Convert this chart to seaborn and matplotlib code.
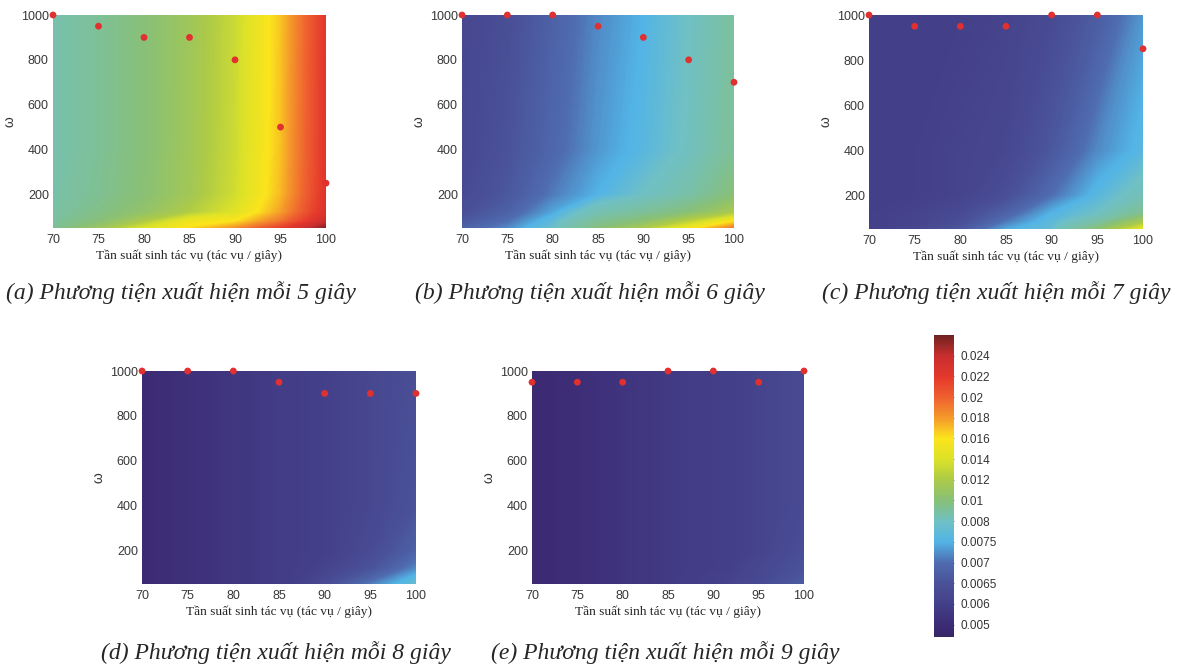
import numpy as np
import matplotlib
matplotlib.use('Agg')
import matplotlib.pyplot as plt
import seaborn as sns
from matplotlib.colors import FuncNorm, LinearSegmentedColormap
from matplotlib.cm import ScalarMappable

# task generation rate (x) and omega (y) grid of the surfaces
rates = [70, 75, 80, 85, 90, 95, 100]
omega_grid = [50, 80, 120, 200, 400, 1000]

# cost surfaces, one row per omega_grid value
cost_5s = [
    [0.0092, 0.0110, 0.0140, 0.0162, 0.0182, 0.0215, 0.0255],
    [0.0090, 0.0100, 0.0120, 0.0152, 0.0160, 0.0192, 0.0238],
    [0.0088, 0.0096, 0.0106, 0.0122, 0.0142, 0.0178, 0.0228],
    [0.0087, 0.0093, 0.0101, 0.0114, 0.0135, 0.0171, 0.0224],
    [0.0086, 0.0092, 0.0100, 0.0113, 0.0133, 0.0169, 0.0223],
    [0.0086, 0.0092, 0.0100, 0.0112, 0.0132, 0.0168, 0.0222],
]
cost_6s = [
    [0.0068, 0.0072, 0.0079, 0.0098, 0.0118, 0.0152, 0.0190],
    [0.0066, 0.0070, 0.0077, 0.0092, 0.0102, 0.0125, 0.0160],
    [0.0064, 0.0068, 0.0074, 0.0084, 0.0091, 0.0100, 0.0118],
    [0.0063, 0.0066, 0.0071, 0.0075, 0.0080, 0.0087, 0.0100],
    [0.0062, 0.0065, 0.0069, 0.0073, 0.0076, 0.0081, 0.0092],
    [0.0062, 0.0064, 0.0068, 0.0072, 0.0075, 0.0080, 0.0090],
]
cost_7s = [
    [0.0060, 0.0062, 0.0066, 0.0074, 0.0078, 0.0100, 0.0145],
    [0.0060, 0.0061, 0.0064, 0.0071, 0.0077, 0.0088, 0.0118],
    [0.0060, 0.0061, 0.0063, 0.0068, 0.0075, 0.0080, 0.0094],
    [0.0060, 0.0060, 0.0061, 0.0064, 0.0070, 0.0076, 0.0083],
    [0.0060, 0.0060, 0.0061, 0.0062, 0.0066, 0.0072, 0.0076],
    [0.0060, 0.0060, 0.0060, 0.0061, 0.0063, 0.0067, 0.0073],
]
cost_8s = [
    [0.0049, 0.0052, 0.0055, 0.0058, 0.0063, 0.0071, 0.0078],
    [0.0049, 0.0052, 0.0055, 0.0058, 0.0062, 0.0068, 0.0076],
    [0.0049, 0.0052, 0.0055, 0.0058, 0.0061, 0.0065, 0.0072],
    [0.0049, 0.0052, 0.0055, 0.0058, 0.0060, 0.0063, 0.0068],
    [0.0049, 0.0052, 0.0055, 0.0058, 0.0060, 0.0062, 0.0065],
    [0.0049, 0.0052, 0.0055, 0.0058, 0.0060, 0.0062, 0.0064],
]
cost_9s = [
    [0.0048, 0.0051, 0.0054, 0.0057, 0.0060, 0.0063, 0.0067],
    [0.0048, 0.0051, 0.0054, 0.0057, 0.0060, 0.0062, 0.0066],
    [0.0048, 0.0051, 0.0054, 0.0057, 0.0059, 0.0062, 0.0065],
    [0.0048, 0.0051, 0.0054, 0.0057, 0.0059, 0.0061, 0.0064],
    [0.0048, 0.0051, 0.0054, 0.0057, 0.0059, 0.0061, 0.0063],
    [0.0048, 0.0051, 0.0054, 0.0057, 0.0059, 0.0061, 0.0063],
]

# best omega per rate (red dots)
best_5s = [1000, 950, 900, 900, 800, 500, 250]
best_6s = [1000, 1000, 1000, 950, 900, 800, 700]
best_7s = [1000, 950, 950, 950, 1000, 1000, 850]
best_8s = [1000, 1000, 1000, 950, 900, 900, 900]
best_9s = [950, 950, 950, 1000, 1000, 950, 1000]

captions = [
    '(a) Phương tiện xuất hiện mỗi 5 giây',
    '(b) Phương tiện xuất hiện mỗi 6 giây',
    '(c) Phương tiện xuất hiện mỗi 7 giây',
    '(d) Phương tiện xuất hiện mỗi 8 giây',
    '(e) Phương tiện xuất hiện mỗi 9 giây',
]
xlabel = 'Tần suất sinh tác vụ (tác vụ / giây)'
ylabel = 'ω'

# colour bar: ticks are evenly spaced although the values are not
cbar_bounds = [0.0044, 0.005, 0.006, 0.0065, 0.007, 0.0075, 0.008, 0.01,
               0.012, 0.014, 0.016, 0.018, 0.02, 0.022, 0.024, 0.026]
cbar_ticks = cbar_bounds[1:-1]
cbar_labels = ['0.005', '0.006', '0.0065', '0.007', '0.0075', '0.008', '0.01',
               '0.012', '0.014', '0.016', '0.018', '0.02', '0.022', '0.024']
cbar_colors = ['#37256a', '#3d2c76', '#44408a', '#4a5298', '#4f6cb0', '#52b4e6',
               '#70c0c4', '#88c078', '#acca48', '#dce228', '#fbe41c', '#f59a2a',
               '#ee6030', '#e4382c', '#c82e2e', '#702222']

sns.set_style('white')
plt.rcParams['font.family'] = ['Liberation Sans', 'DejaVu Sans']

steps = np.array([0.0] + list(0.6 + np.arange(14)) + [14.6]) / 14.6
fwd = lambda v: np.interp(v, cbar_bounds, steps)
inv = lambda p: np.interp(p, steps, cbar_bounds)
norm = FuncNorm((fwd, inv), vmin=cbar_bounds[0], vmax=cbar_bounds[-1])
cmap = LinearSegmentedColormap.from_list('cost', list(zip(steps, cbar_colors)), N=512)
levels = inv(np.linspace(0, 1, 400))

fig = plt.figure(figsize=(11.8, 6.66), dpi=100)
W, H = 1180, 666
# axes boxes in pixels: left, top, right, bottom
boxes = [(53, 15, 326, 228), (462, 15, 734, 228), (869, 15, 1143, 229),
         (142, 371, 416, 584), (532, 371, 804, 584)]
cap_pos = [(181, 293), (590, 293), (996, 293), (276, 653), (665, 653)]
surfaces = [cost_5s, cost_6s, cost_7s, cost_8s, cost_9s]
bests = [best_5s, best_6s, best_7s, best_8s, best_9s]

serif = ['Liberation Serif', 'DejaVu Serif']
for box, cp, z, best, cap in zip(boxes, cap_pos, surfaces, bests, captions):
    l, t, r, b = box
    ax = fig.add_axes([l / W, 1 - b / H, (r - l) / W, (b - t) / H])
    X, Y = np.meshgrid(rates, omega_grid)
    ax.contourf(X, Y, np.array(z), levels=levels, cmap=cmap, norm=norm,
                antialiased=False)
    sns.scatterplot(x=rates, y=best, ax=ax, color='#e0302f', s=24,
                    edgecolor='none', clip_on=False, zorder=5)
    ax.set_xlim(70, 100)
    ax.set_ylim(50, 1000)
    ax.set_xticks(rates)
    ax.set_yticks([200, 400, 600, 800, 1000])
    ax.tick_params(length=0, labelsize=9, labelcolor='#383838', pad=4)
    ax.tick_params(axis='y', pad=3)
    for s in ax.spines.values():
        s.set_visible(False)
    ax.set_xlabel(xlabel, family=serif, fontsize=9.6, labelpad=3)
    ax.set_ylabel(ylabel, fontsize=10, labelpad=3, color='#333333')
    fig.text(cp[0] / W, 1 - cp[1] / H, cap, family=serif, style='italic',
             fontsize=17, ha='center', va='center')

cax = fig.add_axes([934 / W, 1 - 637 / H, 20 / W, 302 / H])
cb = fig.colorbar(ScalarMappable(norm=norm, cmap=cmap), cax=cax)
cb.set_ticks(cbar_ticks, labels=cbar_labels)
cb.outline.set_visible(False)
cax.tick_params(direction='in', length=3, width=0.6, color='#666666',
                labelsize=8.5, labelcolor='#333333', pad=5)

fig.savefig('out.png', dpi=100)
